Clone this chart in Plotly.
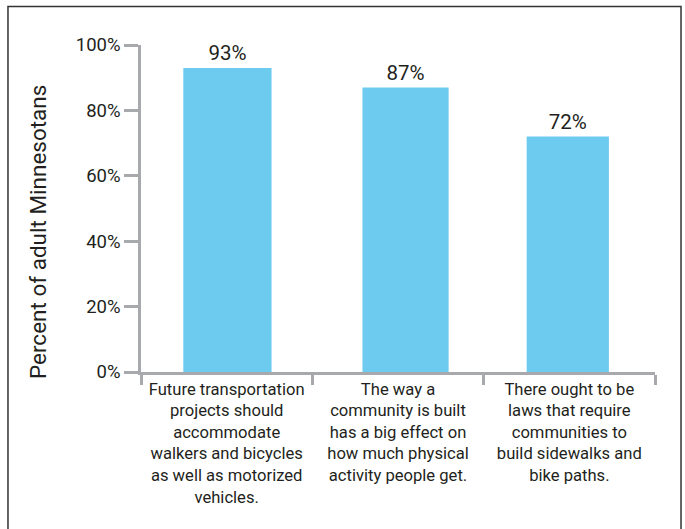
import plotly.graph_objects as go

categories = [
    "Future transportation<br>projects should<br>accommodate<br>walkers and bicycles<br>as well as motorized<br>vehicles.",
    "The way a<br>community is built<br>has a big effect on<br>how much physical<br>activity people get.",
    "There ought to be<br>laws that require<br>communities to<br>build sidewalks and<br>bike paths.",
]
values = [93, 87, 72]
value_labels = ["93%", "87%", "72%"]
y_tick_vals = [0, 20, 40, 60, 80, 100]
y_tick_text = ["0%", "20%", "40%", "60%", "80%", "100%"]
y_title = "Percent of adult Minnesotans"

FONT = "Roboto, Liberation Sans, sans-serif"
TXT = "#231f20"
AX = "#a7a9ac"

fig = go.Figure(
    go.Bar(
        x=categories,
        y=values,
        text=value_labels,
        textposition="outside",
        textfont=dict(family=FONT, size=20.5, color=TXT),
        marker=dict(color="#6dcbf0", line=dict(width=0)),
        width=[0.515, 0.503, 0.48],
        offset=[-0.253, -0.2075, -0.249],
        cliponaxis=False,
        hoverinfo="skip",
    )
)

fig.update_layout(
    width=685,
    height=529,
    margin=dict(l=141, r=30, t=45, b=157),
    paper_bgcolor="white",
    plot_bgcolor="white",
    showlegend=False,
    font=dict(family=FONT, color=TXT),
    xaxis=dict(
        showline=True,
        linecolor=AX,
        linewidth=2.5,
        ticks="outside",
        tickson="boundaries",
        ticklen=10,
        tickwidth=2.5,
        tickcolor=AX,
        tickfont=dict(family=FONT, size=16.6, color=TXT),
        showgrid=False,
        zeroline=False,
    ),
    yaxis=dict(
        range=[0, 100],
        tickvals=y_tick_vals,
        ticktext=y_tick_text,
        showline=True,
        linecolor=AX,
        linewidth=2.5,
        ticks="outside",
        ticklen=14,
        tickwidth=2.5,
        tickcolor=AX,
        tickfont=dict(family=FONT, size=18.5, color=TXT),
        showgrid=False,
        zeroline=False,
    ),
    annotations=[
        dict(
            text=y_title,
            xref="paper",
            yref="paper",
            x=-0.2004,
            y=0.428,
            xanchor="center",
            yanchor="middle",
            textangle=-90,
            showarrow=False,
            font=dict(family=FONT, size=22.5, color=TXT),
        )
    ],
    shapes=[
        dict(
            type="rect",
            xref="paper",
            yref="paper",
            x0=-0.2588,
            x1=1.0506,
            y0=-0.6,
            y1=1.1177,
            line=dict(color="#333333", width=1.5),
            fillcolor="rgba(0,0,0,0)",
            layer="below",
        )
    ],
)

fig.write_html(
    "out.html",
    config={"displayModeBar": False},
    post_script="document.body.style.margin='0px';",
)
